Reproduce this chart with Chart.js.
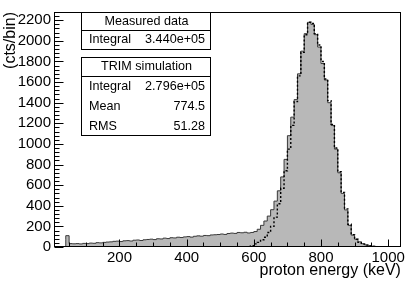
<!DOCTYPE html>
<html><head><meta charset="utf-8">
<script src="https://cdn.jsdelivr.net/npm/chart.js@4.4.1/dist/chart.umd.min.js"></script>
<style>html,body{margin:0;padding:0;background:#fff;}#wrap{width:407px;height:282px;position:relative;}</style>
</head><body><div id="wrap"><canvas id="c"></canvas></div>
<script>
// bin lower edges (keV), bin width 10 keV
const binEdges = [40,50,60,70,80,90,100,110,120,130,140,150,160,170,180,190,200,210,220,230,240,250,260,270,280,290,300,310,320,330,340,350,360,370,380,390,400,410,420,430,440,450,460,470,480,490,500,510,520,530,540,550,560,570,580,590,600,610,620,630,640,650,660,670,680,690,700,710,720,730,740,750,760,770,780,790,800,810,820,830,840,850,860,870,880,890,900,910,920,930,940,950,960,970,980,990,1000];
const binWidth = 10;
const measured = [70,110,33,31,33,30,35,33,38,36,42,40,45,48,50,55,57,53,60,62,58,66,68,63,70,73,76,72,80,78,86,82,90,88,95,92,98,101,96,104,108,105,112,110,117,119,121,126,122,131,135,132,141,138,143,136,141,150,172,210,252,300,362,445,545,680,850,1080,1260,1430,1680,1900,2070,2180,2160,2060,1940,1780,1620,1400,1180,950,720,520,360,210,115,75,50,32,20,12,8,5,3,2,1];
const trimSim = [0,0,0,0,0,0,0,0,0,0,0,0,0,0,0,0,0,0,0,0,0,0,0,0,0,0,0,0,0,0,0,0,0,0,0,0,0,0,0,0,0,0,0,0,0,0,0,0,0,0,0,0,0,0,0,0,12,30,45,70,95,140,200,290,420,570,740,950,1180,1410,1660,1890,2060,2180,2170,2070,1960,1800,1630,1420,1190,960,730,530,370,220,120,75,45,28,18,10,6,4,2,1,1];
const xMajorTicks = [200,400,600,800,1000];
const yMajorTicks = [0,200,400,600,800,1000,1200,1400,1600,1800,2000,2200];
const xLabel = 'proton energy (keV)';
const yLabel = '(cts/bin)';
const statsMeasured = {title:'Measured data', rows:[['Integral','3.440e+05']]};
const statsTrim = {title:'TRIM simulation', rows:[['Integral','2.796e+05'],['Mean','774.5'],['RMS','51.28']]};

function histPoints(edges, vals, w){
  const pts=[{x:edges[0], y:0}];
  edges.forEach((e,i)=>pts.push({x:e, y:vals[i]}));
  pts.push({x:edges[edges.length-1]+w, y:0});
  return pts;
}
function withMinors(majors, step, min, max){
  const out=[];
  for(let v=Math.ceil(min/step)*step; v<=max; v+=step){ out.push({value:v, major: majors.includes(v)}); }
  return out;
}
const FONT = "'Liberation Sans', Arial, Helvetica, sans-serif";

const framePlugin = {
  id:'frame',
  afterDraw(chart){
    const ctx=chart.ctx, a=chart.chartArea;
    ctx.save();
    ctx.strokeStyle='#000'; ctx.lineWidth=1;
    ctx.strokeRect(Math.round(a.left)+0.5, Math.round(a.top)+0.5, Math.round(a.right-a.left)-1, Math.round(a.bottom-a.top)-1);
    // inward ticks
    const xs=chart.scales.x, ys=chart.scales.y;
    const bottom=Math.round(a.bottom)-0.5, left=Math.round(a.left)+0.5;
    ctx.beginPath();
    xs.ticks.forEach(t=>{
      const px=Math.round(xs.getPixelForValue(t.value))+0.5;
      const len = t.major ? 7 : 4;
      ctx.moveTo(px,bottom); ctx.lineTo(px,bottom-len);
    });
    ys.ticks.forEach(t=>{
      const py=Math.round(ys.getPixelForValue(t.value))+0.5;
      const len = t.major ? 9 : 5;
      ctx.moveTo(left,py); ctx.lineTo(left+len,py);
    });
    ctx.stroke();
    // stats boxes
    function box(st, x0, x1, y0, yDiv, rowYs, titleY){
      ctx.fillStyle='#fff';
      ctx.fillRect(x0,y0,x1-x0,rowYs.bottom-y0);
      ctx.strokeStyle='#000';
      ctx.strokeRect(x0+0.5,y0+0.5,x1-x0,rowYs.bottom-y0);
      ctx.beginPath(); ctx.moveTo(x0,yDiv+0.5); ctx.lineTo(x1+1,yDiv+0.5); ctx.stroke();
      ctx.fillStyle='#000';
      ctx.font='12.6px '+FONT;
      ctx.textBaseline='middle';
      ctx.textAlign='center';
      ctx.fillText(st.title,(x0+x1)/2+1,titleY);
      st.rows.forEach((r,i)=>{
        ctx.textAlign='left'; ctx.fillText(r[0], x0+8, rowYs.ys[i]);
        ctx.textAlign='right'; ctx.fillText(r[1], x1-5, rowYs.ys[i]);
      });
    }
    box(statsMeasured, 81, 210, 12, 30, {ys:[40], bottom:49}, 21.5);
    box(statsTrim, 81, 210, 57, 76, {ys:[87,107,127], bottom:135}, 67);
    ctx.restore();
  }
};

new Chart(document.getElementById('c'), {
  type:'line',
  data:{datasets:[
    {label:'TRIM simulation', data:histPoints(binEdges,trimSim,binWidth), stepped:'after', borderColor:'#000', borderWidth:1.4, borderDash:[2,2], pointRadius:0, fill:false, order:0},
    {label:'Measured data', data:histPoints(binEdges,measured,binWidth), stepped:'after', borderColor:'#3a3a3a', borderWidth:1, backgroundColor:'#b8b8b8', pointRadius:0, fill:'origin', order:1}
  ]},
  options:{
    responsive:true, maintainAspectRatio:false, animation:false,
    layout:{padding:{left:0,top:4,right:4,bottom:0}},
    plugins:{legend:{display:false}, tooltip:{enabled:false}},
    scales:{
      x:{type:'linear', min:5, max:1038,
        afterBuildTicks:s=>{ s.ticks = withMinors(xMajorTicks,50,5,1038); },
        afterFit:s=>{ s.height=35; },
        grid:{display:false, drawTicks:false}, border:{display:false},
        ticks:{autoSkip:false, maxRotation:0, padding:2, color:'#000', font:{family:FONT,size:15},
          callback:(v)=> xMajorTicks.includes(v) ? String(v) : ''},
        title:{display:true, text:xLabel, align:'end', color:'#000', font:{family:FONT,size:16}, padding:{top:0,bottom:2}}
      },
      y:{type:'linear', min:0, max:2280,
        afterBuildTicks:s=>{ s.ticks = withMinors(yMajorTicks,40,0,2280); },
        afterFit:s=>{ s.width=54; },
        grid:{display:false, drawTicks:false}, border:{display:false},
        ticks:{autoSkip:false, padding:3, color:'#000', font:{family:FONT,size:15},
          callback:(v)=> yMajorTicks.includes(v) ? String(v) : ''},
        title:{display:true, text:yLabel, align:'end', color:'#000', font:{family:FONT,size:16}, padding:{top:1,bottom:0}}
      }
    }
  },
  plugins:[framePlugin]
});
</script></body></html>
